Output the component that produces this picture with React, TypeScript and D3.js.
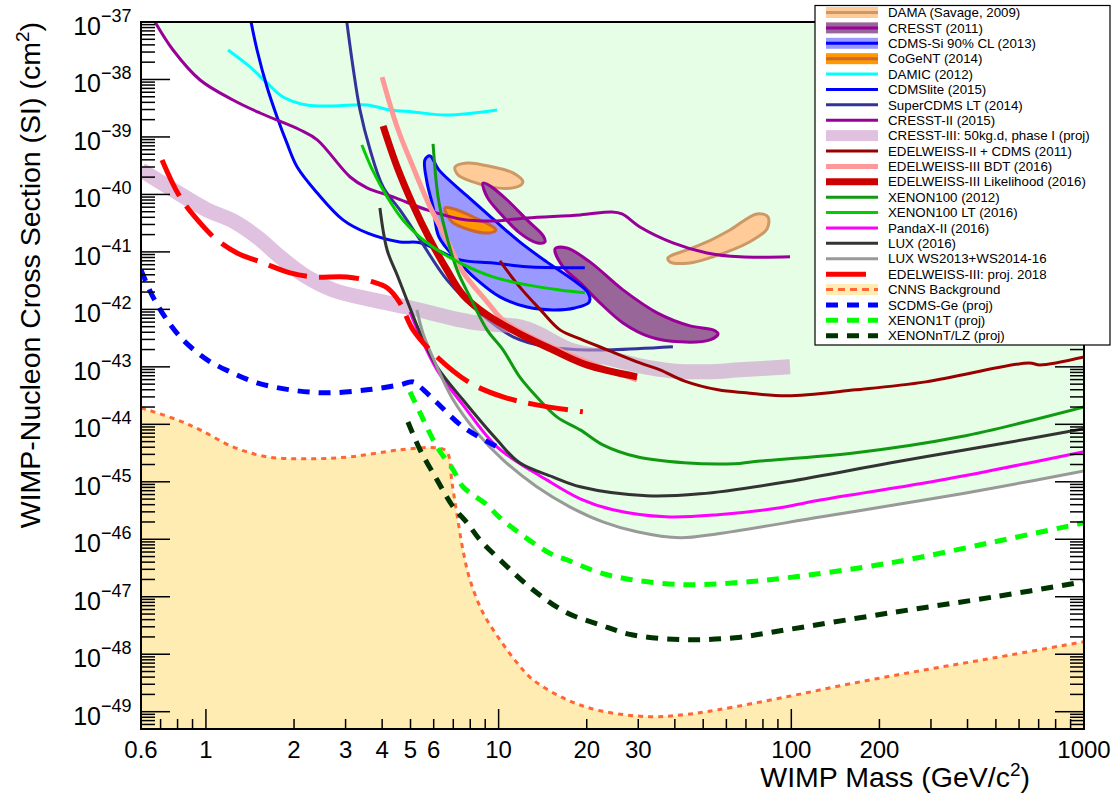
import React from "react";
import * as d3 from "d3";

type Pt = [number, number];

// [WIMP mass (GeV/c^2), cross section (cm^2)]
const damaA: Pt[] = [[7.1, 3.0e-40], [7.8, 3.53e-40], [9.57, 3.0e-40], [11.2, 2.37e-40], [12.1, 1.65e-40], [11.56, 1.35e-40], [9.87, 1.3e-40], [8.18, 1.65e-40], [7.27, 2.18e-40]];
const damaB: Pt[] = [[37.9, 7.87e-42], [44.0, 1.08e-41], [51.5, 1.49e-41], [61.7, 2.41e-41], [76.3, 4.58e-41], [83.2, 4.06e-41], [82.6, 2.51e-41], [71.1, 1.44e-41], [54.0, 8.2e-42], [45.1, 6.44e-42], [38.5, 6.7e-42]];
const cresstA: Pt[] = [[8.84, 1.58e-40], [9.34, 1.41e-40], [10.7, 8.0e-41], [12.5, 3.6e-41], [14.2, 1.9e-41], [14.4, 1.49e-41], [13.5, 1.44e-41], [11.8, 2.14e-41], [10.1, 4.77e-41], [9.13, 9.06e-41]];
const cresstB: Pt[] = [[15.6, 1.13e-41], [17.1, 1.17e-41], [20.5, 6.7e-42], [26.6, 2.18e-42], [34.8, 8.7e-43], [45.1, 5.16e-43], [54.0, 4.4e-43], [56.2, 3.75e-43], [52.7, 2.95e-43], [41.7, 2.72e-43], [32.9, 3.33e-43], [26.6, 5.82e-43], [22.2, 1.3e-42], [19.0, 2.89e-42], [16.6, 5.48e-42]];
const cdmsSi: Pt[] = [[5.6, 3.98e-40], [5.83, 4.68e-40], [6.25, 2.67e-40], [7.8, 9.4e-41], [9.57, 3.75e-41], [11.8, 1.49e-41], [14.6, 6.7e-42], [17.95, 3.26e-42], [20.2, 1.94e-42], [20.4, 1.35e-42], [18.2, 1.06e-42], [15.3, 9.8e-43], [12.5, 1.1e-42], [10.1, 1.65e-42], [8.44, 3.26e-42], [7.21, 7.26e-42], [6.25, 1.82e-41], [5.97, 6.07e-41], [5.69, 1.65e-40]];
const cogent: Pt[] = [[6.56, 5.82e-41], [7.21, 5.37e-41], [8.31, 3.9e-41], [9.34, 2.95e-41], [9.79, 2.41e-41], [9.34, 2.14e-41], [7.98, 2.41e-41], [6.93, 3.33e-41]];

const damic: Pt[] = [[1.19, 3.26e-38], [1.415, 1.65e-38], [1.617, 8.7e-39], [1.834, 4.97e-39], [2.21, 3.6e-39], [2.72, 3.46e-39], [3.55, 3.6e-39], [4.26, 2.95e-39], [5.1, 2.72e-39], [6.66, 2.41e-39], [9.87, 2.95e-39]];
const cdmslite: Pt[] = [[1.426, 1e-37], [1.495, 3.26e-38], [1.617, 7.4e-39], [1.75, 2.23e-39], [1.89, 7.87e-40], [2.05, 3.0e-40], [2.4, 1.06e-40], [2.94, 3.6e-41], [3.55, 2.14e-41], [4.6, 1.49e-41], [5.39, 1.44e-41], [7.38, 7.26e-42], [9.57, 6.44e-42], [12.5, 5.5e-42], [19.7, 5.3e-42]];
const superCdmsLT: Pt[] = [[3.03, 1e-37], [3.18, 1.65e-38], [3.36, 2.95e-39], [3.64, 5.94e-40], [4.03, 1.35e-40], [4.6, 5.37e-41], [5.39, 1.62e-41], [6.66, 3.26e-42], [8.63, 8.7e-43], [11.2, 3.33e-43], [14.6, 2.23e-43], [19.0, 1.98e-43], [24.6, 1.98e-43], [39.4, 2.23e-43]];
const cresst2015: Pt[] = [[0.67, 1e-37], [0.772, 3.26e-38], [0.955, 9.8e-39], [1.237, 4.4e-39], [1.53, 2.61e-39], [2.1, 1.32e-39], [2.4, 8.9e-40], [3.11, 2.01e-40], [3.55, 1.3e-40], [4.36, 9.06e-41], [5.69, 5.37e-41], [7.38, 3.75e-41], [9.57, 3.46e-41], [12.5, 3.9e-41], [19.0, 4.4e-41], [24.4, 4.96e-41], [26.4, 4.58e-41], [30.4, 2.72e-41], [39.4, 1.44e-41], [51.5, 9.6e-42], [66.8, 8.2e-42], [99, 8.2e-42]];
const cresst3: Pt[] = [[0.6, 2.67e-40], [0.772, 1.2e-40], [1.01, 5.37e-41], [1.237, 3.46e-41], [1.495, 1.82e-41], [1.79, 8.2e-42], [2.21, 3.67e-42], [2.72, 2.18e-42], [3.72, 1.46e-42], [4.86, 1.1e-42], [7.98, 6.07e-43], [11.8, 4.96e-43], [13.5, 3.9e-43], [17.5, 1.98e-43], [23.5, 1.44e-43], [30.4, 1.04e-43], [39.4, 8.5e-44], [51.5, 8.2e-44], [66.8, 8.87e-44], [99, 1e-43]];
const edw2cdms: Pt[] = [[10.1, 6.97e-42], [11.8, 2.46e-42], [13.9, 9.8e-43], [16.2, 4.4e-43], [19.0, 3.07e-43], [23.5, 1.98e-43], [30.4, 1.17e-43], [35.6, 8.87e-44], [43.0, 5.71e-44], [56.2, 3.98e-44], [70, 3.53e-44], [96.6, 3.13e-44], [166, 3.98e-44], [288, 5.48e-44], [649, 1.17e-43], [707, 1.08e-43], [1000, 1.49e-43]];
const edw3BDT: Pt[] = [[4.0, 1.1e-38], [4.5, 1.49e-39], [5.1, 3.0e-40], [5.83, 6.07e-41], [6.66, 1.62e-41], [7.55, 4.49e-42], [9.13, 1.35e-42], [10.5, 6.07e-43], [13.5, 2.95e-43], [17.5, 1.62e-43], [22.7, 9.6e-44], [29.7, 5.94e-44]];
const edw3Like: Pt[] = [[4.03, 1.55e-39], [4.5, 3.0e-40], [5.1, 6.56e-41], [5.83, 1.62e-41], [6.66, 4.86e-42], [7.55, 1.79e-42], [9.13, 8.0e-43], [11.8, 3.75e-43], [15.3, 1.98e-43], [20.0, 1.08e-43], [29.7, 6.7e-44]];
const xenon100: Pt[] = [[5.97, 7.55e-40], [6.21, 9.06e-41], [6.56, 2.41e-41], [7.21, 4.86e-42], [7.98, 1.65e-42], [9.13, 4.4e-43], [10.35, 1.98e-43], [11.8, 6.7e-44], [13.5, 3.0e-44], [15.8, 1.35e-44], [19.0, 8.0e-45], [22.7, 4.4e-45], [29.7, 2.72e-45], [43.0, 2.14e-45], [64.2, 2.06e-45], [74, 2.23e-45], [166, 3.2e-45], [377, 6.07e-45], [1000, 2.01e-44]];
const xenon100LT: Pt[] = [[3.41, 7.26e-40], [3.72, 2.56e-40], [4.16, 9.06e-41], [4.71, 3.6e-41], [5.69, 1.44e-41], [7.38, 6.44e-42], [9.57, 3.67e-42], [12.5, 2.67e-42], [16.2, 2.18e-42], [19.7, 1.94e-42]];
const pandax: Pt[] = [[4.98, 9.06e-43], [5.39, 3.46e-43], [6.16, 8.87e-44], [7.55, 2.18e-44], [9.87, 4.06e-45], [14.6, 1.08e-45], [19.0, 5.06e-46], [24.6, 3.26e-46], [37.3, 2.46e-46], [56.2, 2.67e-46], [91.5, 3.53e-46], [127, 4.86e-46], [288, 9.6e-46], [496, 1.62e-45], [1000, 3.33e-45]];
const lux2016: Pt[] = [[3.93, 5.82e-41], [4.16, 1.08e-41], [4.5, 3.98e-42], [4.86, 1.46e-42], [5.39, 3.9e-43], [6.16, 1e-43], [7.55, 2.67e-44], [9.87, 5.37e-45], [11.8, 2.14e-45], [15.3, 1.22e-45], [19.0, 8.2e-46], [32.1, 5.71e-46], [48.8, 6.18e-46], [96.6, 1e-45], [219, 2.14e-45], [496, 4.4e-45], [1000, 8.35e-45]];
const luxWS: Pt[] = [[5.26, 9.8e-43], [5.51, 3.9e-43], [6.16, 1e-43], [6.99, 2.67e-44], [8.44, 7.1e-45], [10.35, 2.41e-45], [13.5, 8.2e-46], [17.5, 3.67e-46], [22.7, 2.01e-46], [29.7, 1.35e-46], [41.7, 1.06e-46], [56.2, 1.25e-46], [127, 2.46e-46], [288, 4.86e-46], [496, 7.87e-46], [1000, 1.55e-45]];
const edw3proj: Pt[] = [[0.708, 3.98e-40], [0.815, 9.06e-41], [0.955, 3.2e-41], [1.09, 1.62e-41], [1.277, 9.6e-42], [1.567, 6.44e-42], [1.94, 4.31e-42], [2.32, 3.67e-42], [3.03, 3.67e-42], [3.72, 3.0e-42], [4.16, 2.37e-42], [4.6, 1.3e-42], [5.1, 4.4e-43], [6.16, 1.49e-43], [7.98, 5.27e-44], [10.35, 3.0e-44], [13.5, 2.18e-44], [19.4, 1.65e-44]];
const cnns: Pt[] = [[0.6, 1.94e-44], [0.797, 1.2e-44], [0.955, 8.0e-45], [1.237, 4.06e-45], [1.617, 2.72e-45], [2.21, 2.51e-45], [3.11, 2.72e-45], [4.6, 3.6e-45], [6.16, 3.9e-45], [6.66, 3.33e-45], [6.93, 9.6e-46], [7.21, 2.67e-46], [7.55, 6.56e-47], [7.98, 1.98e-47], [8.84, 5.27e-48], [10.1, 1.79e-48], [11.56, 7.1e-49], [13.1, 3.6e-49], [17.1, 1.62e-49], [22.2, 1.04e-49], [32.7, 8.2e-50], [43.0, 8.87e-50], [56.2, 1.08e-49], [96.6, 1.82e-49], [166, 3.2e-49], [288, 5.37e-49], [496, 8.7e-49], [1000, 1.65e-48]];
const scdmsGe: Pt[] = [[0.6, 4.86e-42], [0.659, 1.65e-42], [0.736, 6.56e-43], [0.835, 2.95e-43], [1.01, 1.32e-43], [1.209, 8.2e-44], [1.495, 5.27e-44], [1.94, 3.98e-44], [2.59, 3.53e-44], [3.55, 3.98e-44], [4.6, 4.86e-44], [5.1, 5.48e-44], [5.39, 4.49e-44], [6.16, 2.37e-44], [7.55, 9.06e-45], [9.87, 4.06e-45]];
const xenon1T: Pt[] = [[4.98, 3.67e-44], [5.39, 1.58e-44], [6.16, 4.06e-45], [6.99, 1.62e-45], [7.55, 8.2e-46], [9.13, 3.98e-46], [10.1, 2.37e-46], [13.1, 8.7e-47], [15.3, 5.37e-47], [17.1, 4.4e-47], [22.2, 2.61e-47], [28.5, 1.98e-47], [43.0, 1.62e-47], [64.2, 1.75e-47], [96.6, 2.14e-47], [219, 3.9e-47], [496, 9.06e-47], [1000, 1.94e-46]];
const xenonNT: Pt[] = [[4.9, 1.1e-44], [5.39, 3.6e-45], [6.16, 1.08e-45], [6.99, 3.67e-46], [7.8, 1.94e-46], [8.63, 9.8e-47], [10.1, 4.4e-47], [13.1, 1.32e-47], [17.1, 5.27e-48], [22.2, 3.26e-48], [28.5, 2.18e-48], [43.0, 1.79e-48], [64.2, 1.94e-48], [96.6, 2.67e-48], [219, 5.27e-48], [496, 1e-47], [1000, 1.82e-47]];

const xMajor = [1, 10, 100, 1000];
const xMinor = [0.7, 0.8, 0.9, 2, 3, 4, 5, 6, 7, 8, 9, 20, 30, 40, 50, 60, 70, 80, 90, 200, 300, 400, 500, 600, 700, 800, 900];
const xLabels = [0.6, 1, 2, 3, 4, 5, 6, 10, 20, 30, 100, 200, 1000];
const yExponents = [-49, -48, -47, -46, -45, -44, -43, -42, -41, -40, -39, -38, -37];

// legend order = drawing order
const series: any[] = [
  { label: "DAMA (Savage, 2009)", kind: "contour", shapes: [damaA, damaB], fill: "#ffcc99", color: "#cc9966", width: 3 },
  { label: "CRESST (2011)", kind: "contour", shapes: [cresstA, cresstB], fill: "#996699", color: "#990099", width: 3 },
  { label: "CDMS-Si 90% CL (2013)", kind: "contour", shapes: [cdmsSi], fill: "#9999ff", color: "#0000ff", width: 3 },
  { label: "CoGeNT (2014)", kind: "contour", shapes: [cogent], fill: "#ff9900", color: "#cc6633", width: 3 },
  { label: "DAMIC (2012)", kind: "limit", data: damic, color: "#00ffff", width: 3 },
  { label: "CDMSlite (2015)", kind: "limit", data: cdmslite, color: "#0000ff", width: 3 },
  { label: "SuperCDMS LT (2014)", kind: "limit", data: superCdmsLT, color: "#333399", width: 3 },
  { label: "CRESST-II (2015)", kind: "limit", data: cresst2015, color: "#990099", width: 3 },
  { label: "CRESST-III: 50kg.d, phase I (proj)", kind: "band", data: cresst3, color: "#cc99cc", width: 15 },
  { label: "EDELWEISS-II + CDMS (2011)", kind: "limit", data: edw2cdms, color: "#990000", width: 3 },
  { label: "EDELWEISS-III BDT (2016)", kind: "limit", data: edw3BDT, color: "#ff9999", width: 5 },
  { label: "EDELWEISS-III Likelihood (2016)", kind: "limit", data: edw3Like, color: "#cc0000", width: 7 },
  { label: "XENON100 (2012)", kind: "limit", data: xenon100, color: "#119911", width: 3 },
  { label: "XENON100 LT (2016)", kind: "limit", data: xenon100LT, color: "#00cc00", width: 3 },
  { label: "PandaX-II (2016)", kind: "limit", data: pandax, color: "#ff00ff", width: 3 },
  { label: "LUX (2016)", kind: "limit", data: lux2016, color: "#333333", width: 3 },
  { label: "LUX WS2013+WS2014-16", kind: "limit", data: luxWS, color: "#999999", width: 3 },
  { label: "EDELWEISS-III: proj. 2018", kind: "proj", data: edw3proj, color: "#ff0000", width: 5, dash: "40 12" },
  { label: "CNNS Background", kind: "floor", data: cnns, color: "#ff6633", fill: "#feecb2", width: 3, dash: "5 5" },
  { label: "SCDMS-Ge (proj)", kind: "proj", data: scdmsGe, color: "#0000ff", width: 5, dash: "12 9" },
  { label: "XENON1T (proj)", kind: "proj", data: xenon1T, color: "#00ff00", width: 5, dash: "12 9" },
  { label: "XENONnT/LZ (proj)", kind: "proj", data: xenonNT, color: "#003300", width: 5, dash: "12 9" },
];

const L = 141, R = 1084, T = 22, B = 729;
const x = d3.scaleLog().domain([0.6, 1000]).range([L, R]);
const y = d3.scaleLog().domain([5e-50, 1e-37]).range([B, T]);
const font = "'Liberation Sans', Arial, Helvetica, sans-serif";

export default function App() {
  const curve = d3.curveCatmullRom.alpha(0.5);
  const line = d3.line<Pt>().x(d => x(d[0])).y(d => y(d[1])).curve(curve);
  const closed = d3.line<Pt>().x(d => x(d[0])).y(d => y(d[1])).curve(d3.curveCatmullRomClosed.alpha(0.5));
  const excluded = d3.area<Pt>().x(d => x(d[0])).y0(T).y1(d => y(d[1])).curve(curve);
  const floor = d3.area<Pt>().x(d => x(d[0])).y0(B).y1(d => y(d[1])).curve(curve);

  const yMinor: number[] = [];
  for (let e = -50; e <= -38; e++) {
    for (let k = 2; k <= 9; k++) {
      const v = k * Math.pow(10, e);
      if (v >= 5e-50 && v <= 1e-37) yMinor.push(v);
    }
  }

  const limits = series.filter(s => s.kind === "limit");
  const cnnsSeries = series.find(s => s.kind === "floor");

  const legX0 = 826, legX1 = 878, legTop = 12.5, legStep = 15.39;

  return (
    <svg width={1118} height={794} style={{ position: "absolute", left: 0, top: 0, background: "#fff" }}>
      <defs>
        <clipPath id="plot"><rect x={L} y={T} width={R - L} height={B - T} /></clipPath>
      </defs>
      <rect width={1118} height={794} fill="#fff" />
      <g clipPath="url(#plot)">
        {limits.map((s, i) => <path key={"ex" + i} d={excluded(s.data) || ""} fill="#e6fde6" />)}
        <path d={floor(cnnsSeries.data) || ""} fill={cnnsSeries.fill} />
        {series.map((s, i) => {
          if (s.kind === "contour")
            return s.shapes.map((sh: Pt[], j: number) => (
              <path key={i + "c" + j} d={closed(sh) || ""} fill={s.fill} stroke={s.color} strokeWidth={s.width} />
            ));
          if (s.kind === "band")
            return <path key={i} d={line(s.data) || ""} fill="none" stroke={s.color} strokeOpacity={0.6} strokeWidth={s.width} />;
          return (
            <path key={i} d={line(s.data) || ""} fill="none" stroke={s.color} strokeWidth={s.width}
              strokeDasharray={s.dash} strokeLinejoin="round" />
          );
        })}
      </g>

      {/* frame and ticks */}
      <g stroke="#000" strokeWidth={1.5}>
        {yExponents.map(e => {
          const p = y(Math.pow(10, e));
          return <g key={"ym" + e}><line x1={L} x2={L + 29} y1={p} y2={p} /><line x1={R} x2={R - 29} y1={p} y2={p} /></g>;
        })}
        {yMinor.map((v, i) => {
          const p = y(v);
          return <g key={"yn" + i}><line x1={L} x2={L + 14} y1={p} y2={p} /><line x1={R} x2={R - 14} y1={p} y2={p} /></g>;
        })}
        {xMajor.map(v => <line key={"xm" + v} x1={x(v)} x2={x(v)} y1={B} y2={B - 20} />)}
        {xMinor.map(v => <line key={"xn" + v} x1={x(v)} x2={x(v)} y1={B} y2={B - 10} />)}
      </g>
      <rect x={L} y={T} width={R - L} height={B - T} fill="none" stroke="#000" strokeWidth={2} />

      <g fontFamily={font} fill="#000">
        {yExponents.map(e => {
          const p = y(Math.pow(10, e));
          return (
            <g key={"yl" + e}>
              <text x={101} y={p + 13} fontSize={25} textAnchor="end">10</text>
              <text x={101} y={p} fontSize={18} textAnchor="start">{"\u2212" + Math.abs(e)}</text>
            </g>
          );
        })}
        {xLabels.map(v => (
          <text key={"xl" + v} x={x(v)} y={758} fontSize={24} textAnchor="middle">{v}</text>
        ))}
        <text x={1030} y={787} fontSize={28.5} textAnchor="end">
          WIMP Mass (GeV/c<tspan dy={-11} fontSize={19}>2</tspan><tspan dy={11}>)</tspan>
        </text>
        <text transform="rotate(-90)" x={-22} y={40} fontSize={28.5} textAnchor="end">
          WIMP-Nucleon Cross Section (SI) (cm<tspan dy={-11} fontSize={19}>2</tspan><tspan dy={11}>)</tspan>
        </text>
      </g>

      {/* legend */}
      <g>
        <rect x={815} y={5.5} width={295} height={339.5} fill="#fff" stroke="#000" strokeWidth={1.2} />
        {series.map((s, i) => {
          const cy = legTop + i * legStep;
          let sym: React.ReactNode = null;
          if (s.kind === "contour")
            sym = <g><rect x={legX0} y={cy - 5.5} width={legX1 - legX0} height={11} fill={s.fill} /><line x1={legX0} x2={legX1} y1={cy} y2={cy} stroke={s.color} strokeWidth={3} /></g>;
          else if (s.kind === "band")
            sym = <rect x={legX0} y={cy - 5.5} width={legX1 - legX0} height={11} fill={s.color} fillOpacity={0.6} />;
          else if (s.kind === "floor")
            sym = <g><rect x={legX0} y={cy - 5.5} width={legX1 - legX0} height={11} fill={s.fill} /><line x1={legX0} x2={legX1} y1={cy} y2={cy} stroke={s.color} strokeWidth={3} strokeDasharray="7 5" /></g>;
          else
            sym = <line x1={legX0} x2={legX1} y1={cy} y2={cy} stroke={s.color} strokeWidth={s.width} strokeDasharray={s.dash} />;
          return (
            <g key={"lg" + i}>
              {sym}
              <text x={888} y={cy + 4.7} fontSize={13.3} fontFamily={font} fill="#000">{s.label}</text>
            </g>
          );
        })}
      </g>
    </svg>
  );
}
